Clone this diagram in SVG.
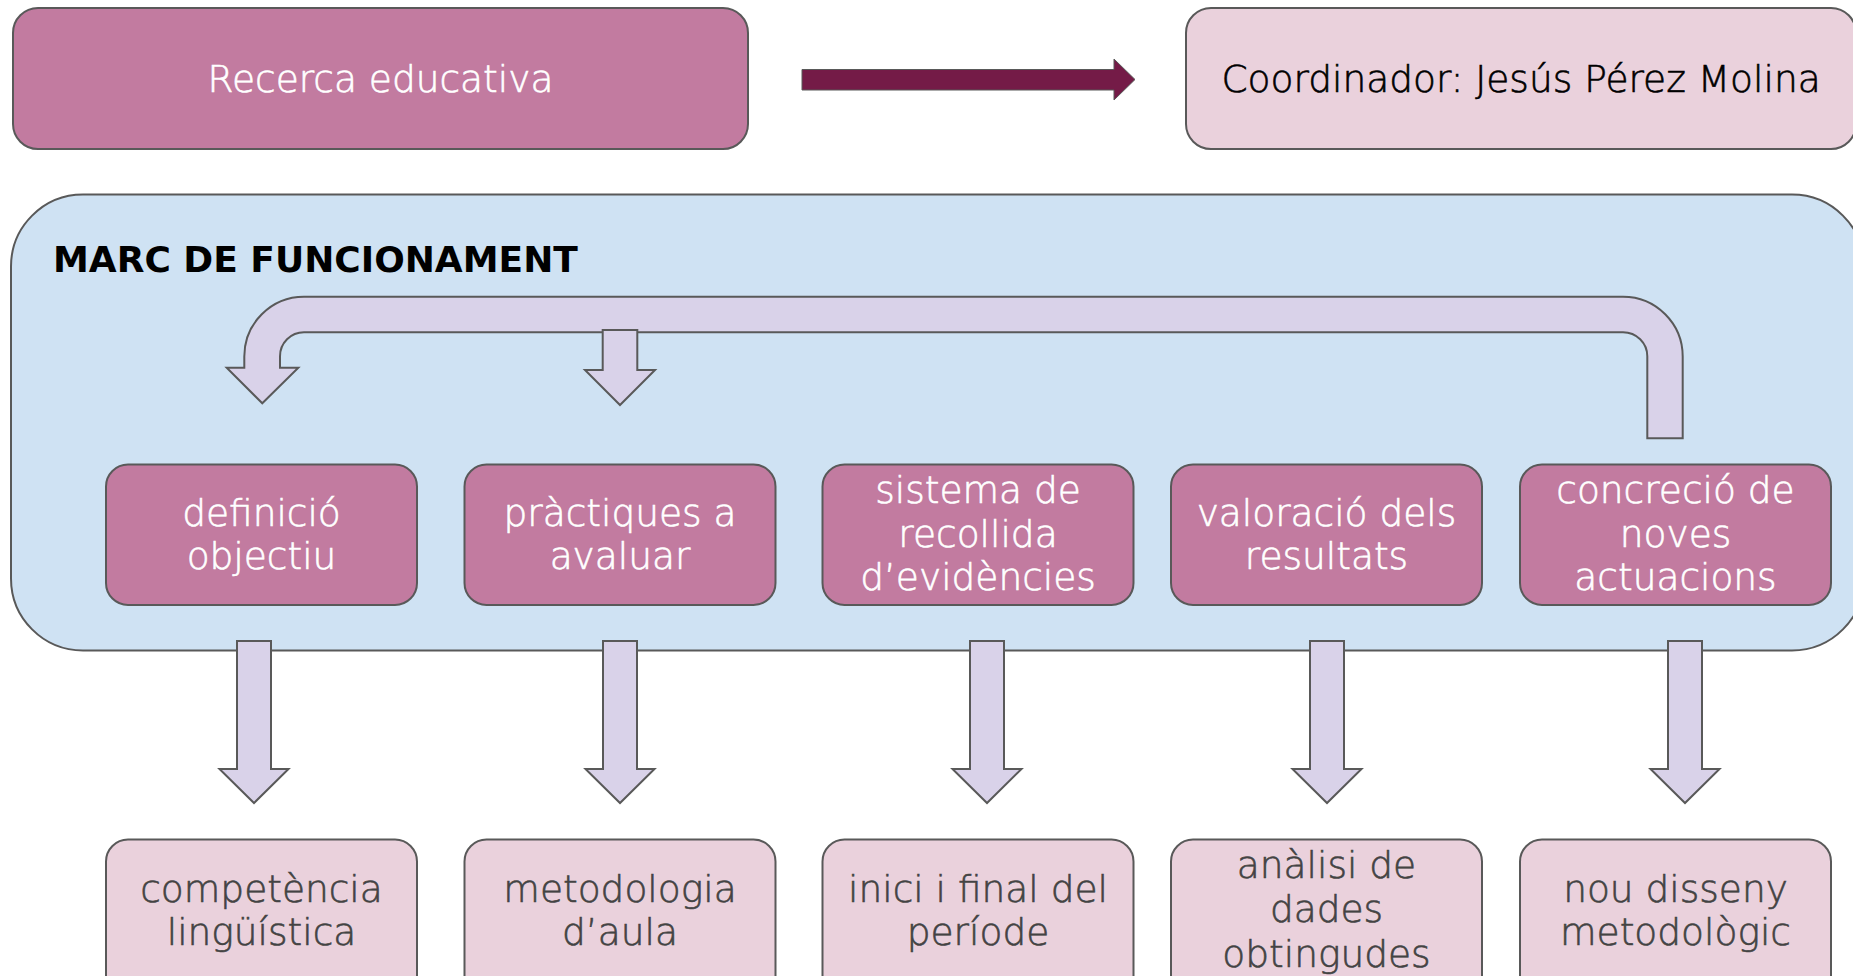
<svg xmlns="http://www.w3.org/2000/svg" width="1853" height="976" viewBox="0 0 1853 976">
<style>
.t{font-family:"DejaVu Sans","Liberation Sans",sans-serif;font-size:37.5px;font-weight:300;text-anchor:middle;stroke-width:0.6}
.w{fill:#ffffff;stroke:#ffffff}
.k{fill:#000000;stroke:#000000}
.g{fill:#434343;stroke:#434343}
.mag{fill:#C27BA0;stroke:#595959;stroke-width:2}
.lp{fill:#EAD1DC;stroke:#595959;stroke-width:2}
.arr{fill:#D9D2E9;stroke:#595959;stroke-width:2;stroke-linejoin:miter}
</style>
<rect width="1853" height="976" fill="#ffffff"/>
<g id="recerca">
<rect class="mag" x="13" y="8" width="735" height="141" rx="25"/>
<text class="t w" x="380.5" y="92">Recerca educativa</text>
</g>
<g id="coordinador">
<rect class="lp" x="1186" y="8" width="670" height="141" rx="25"/>
<text class="t k" x="1521" y="92">Coordinador: Jesús Pérez Molina</text>
</g>
<g id="marc">
<rect x="11" y="194.5" width="1853" height="456" rx="72" fill="#CFE2F3" stroke="#595959" stroke-width="2"/>
<text x="53" y="272" style="font-family:'DejaVu Sans','Liberation Sans',sans-serif;font-size:36px;font-weight:bold" fill="#000000">MARC DE FUNCIONAMENT</text>
</g>
<g id="connectors">
<path d="M802,69.5 H1114 V59 L1135,79.5 L1114,100 V90 H802 Z" fill="#741B47" stroke="#595959" stroke-width="1"/>
<path class="arr" d="M262.3,403.3 L298.3,367.7 H280 V356.3 A24,24 0 0 1 304,332.3 H1623 A24.3,24 0 0 1 1647.3,356.3 V438.3 H1682.7 V356.5 A59.7,59.8 0 0 0 1623,296.7 H304 A59.7,59.7 0 0 0 244.3,356.4 V367.7 H226.7 Z"/>
<path class="arr" d="M602.7,330 H637.3 V370 H655 L620,405 L585,370 H602.7 Z"/>
<path class="arr" d="M237,641 H271 V769 H288.5 L254,803 L219.5,769 H237 Z"/>
<path class="arr" d="M603,641 H637 V769 H654.5 L620,803 L585.5,769 H603 Z"/>
<path class="arr" d="M970,641 H1004 V769 H1021.5 L987,803 L952.5,769 H970 Z"/>
<path class="arr" d="M1310,641 H1344 V769 H1361.5 L1327,803 L1292.5,769 H1310 Z"/>
<path class="arr" d="M1668,641 H1702 V769 H1719.5 L1685,803 L1650.5,769 H1668 Z"/>
</g>
<g id="definicio">
<rect class="mag" x="106" y="464.5" width="311" height="140.5" rx="22"/>
<text class="t w" x="261.5" y="526">definició</text>
<text class="t w" x="261.5" y="569">objectiu</text>
</g>
<g id="practiques">
<rect class="mag" x="464.5" y="464.5" width="311" height="140.5" rx="22"/>
<text class="t w" x="620" y="526">pràctiques a</text>
<text class="t w" x="620" y="569">avaluar</text>
</g>
<g id="sistema">
<rect class="mag" x="822.5" y="464.5" width="311" height="140.5" rx="22"/>
<text class="t w" x="978" y="503">sistema de</text>
<text class="t w" x="978" y="546.7">recollida</text>
<text class="t w" x="978" y="590">d’evidències</text>
</g>
<g id="valoracio">
<rect class="mag" x="1171" y="464.5" width="311" height="140.5" rx="22"/>
<text class="t w" x="1326.5" y="526">valoració dels</text>
<text class="t w" x="1326.5" y="569">resultats</text>
</g>
<g id="concrecio">
<rect class="mag" x="1520" y="464.5" width="311" height="140.5" rx="22"/>
<text class="t w" x="1675.5" y="503">concreció de</text>
<text class="t w" x="1675.5" y="546.7">noves</text>
<text class="t w" x="1675.5" y="590">actuacions</text>
</g>
<g id="competencia">
<rect class="lp" x="106" y="839.5" width="311" height="170" rx="22"/>
<text class="t g" x="261.5" y="901.7">competència</text>
<text class="t g" x="261.5" y="945.4">lingüística</text>
</g>
<g id="metodologia">
<rect class="lp" x="464.5" y="839.5" width="311" height="170" rx="22"/>
<text class="t g" x="620" y="901.7">metodologia</text>
<text class="t g" x="620" y="945.4">d’aula</text>
</g>
<g id="inici">
<rect class="lp" x="822.5" y="839.5" width="311" height="170" rx="22"/>
<text class="t g" x="978" y="901.7">inici i final del</text>
<text class="t g" x="978" y="945.4">període</text>
</g>
<g id="analisi">
<rect class="lp" x="1171" y="839.5" width="311" height="170" rx="22"/>
<text class="t g" x="1326.5" y="877.6">anàlisi de</text>
<text class="t g" x="1326.5" y="922">dades</text>
<text class="t g" x="1326.5" y="966.5">obtingudes</text>
</g>
<g id="nou">
<rect class="lp" x="1520" y="839.5" width="311" height="170" rx="22"/>
<text class="t g" x="1675.5" y="901.7">nou disseny</text>
<text class="t g" x="1675.5" y="945.4">metodològic</text>
</g>
</svg>
